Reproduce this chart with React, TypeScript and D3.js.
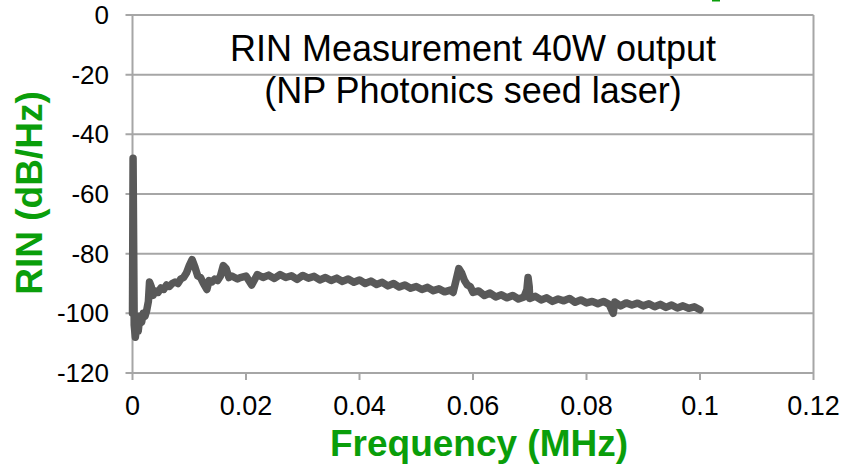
import React from "react";
import * as d3 from "d3";

const xTicks = [0, 0.02, 0.04, 0.06, 0.08, 0.1, 0.12];
const yTicks = [0, -20, -40, -60, -80, -100, -120];
const titleLines = ["RIN Measurement 40W output", "(NP Photonics seed laser)"];
const xLabel = "Frequency (MHz)";
const yLabel = "RIN (dB/Hz)";

const freq = [
  0, 0.0001, 0.0003, 0.0005, 0.0008, 0.001, 0.0013, 0.0016, 0.0019, 0.0022, 0.0025, 0.0028,
  0.003, 0.0033, 0.0036, 0.004, 0.0045, 0.005, 0.0055, 0.006, 0.0065, 0.007, 0.0075, 0.008,
  0.0085, 0.009, 0.0095, 0.01, 0.0105, 0.011, 0.0115, 0.012, 0.0125, 0.0131, 0.0135, 0.014,
  0.0145, 0.015, 0.0155, 0.016, 0.0165, 0.017, 0.0175, 0.018, 0.0185, 0.019, 0.02, 0.021,
  0.022, 0.023, 0.024, 0.025, 0.026, 0.027, 0.028, 0.029, 0.03, 0.031, 0.032, 0.033, 0.034,
  0.035, 0.036, 0.037, 0.038, 0.039, 0.04, 0.041, 0.042, 0.043, 0.044, 0.045, 0.046, 0.047,
  0.048, 0.049, 0.05, 0.051, 0.052, 0.053, 0.054, 0.055, 0.056, 0.0565, 0.057, 0.0575, 0.058,
  0.0585, 0.059, 0.0595, 0.06, 0.061, 0.062, 0.063, 0.064, 0.065, 0.066, 0.067, 0.068, 0.069,
  0.0695, 0.0697, 0.0699, 0.07, 0.071, 0.072, 0.073, 0.074, 0.075, 0.076, 0.077, 0.078, 0.079,
  0.08, 0.081, 0.082, 0.083, 0.084, 0.0847, 0.085, 0.086, 0.087, 0.088, 0.089, 0.09, 0.091,
  0.092, 0.093, 0.094, 0.095, 0.096, 0.097, 0.098, 0.099, 0.1,
];
const rin = [
  -100, -48, -104, -108, -104, -106, -101, -103, -100, -101, -99, -96,
  -89.5, -91, -94, -92.5, -93, -91.5, -92, -90.5, -91, -90, -89.5, -90,
  -88.5, -88, -86.5, -84, -82, -84.5, -87.5, -88, -90, -92, -89, -89.5,
  -88.5, -89, -87.5, -84, -85, -88, -87.5, -88, -88.5, -88, -87.5, -90.5,
  -87, -88, -87.2, -88.3, -87, -88, -87.4, -88.6, -87.3, -88.2, -87.6, -88.8, -88,
  -89, -88.2, -89.3, -88.5, -89.6, -88.8, -90, -89.2, -90.3, -89.6, -90.8, -90, -91.2,
  -90.5, -91.6, -91, -92, -91.3, -92.4, -91.8, -92.8, -92.2, -93, -89, -85, -86.5,
  -89, -90.5, -91, -93, -92.5, -94, -93.2, -94.5, -93.8, -94.8, -94, -95.2, -94.5,
  -92, -88, -91, -95, -94.3, -95.5, -94.8, -96, -95.2, -95.8, -95, -96.3, -95.5,
  -96.5, -96, -96.8, -96, -97, -100, -96.2, -97.5, -96.5, -97.2, -96.6, -97.5, -96.8,
  -97.8, -97, -98, -97.2, -98.2, -97.5, -98.3, -97.8, -98.8,
];

const W = 843;
const H = 471;
const left = 132.5;
const right = 813.5;
const top = 15;
const bottom = 373;
const gridColor = "#a6a6a6";
const green = "#0a9e0a";
const font = "'Liberation Sans', Arial, sans-serif";

export default function App() {
  React.useEffect(() => {
    document.body.style.margin = "0";
  }, []);
  const x = d3.scaleLinear().domain([0, 0.12]).range([left, right]);
  const y = d3.scaleLinear().domain([-120, 0]).range([bottom, top]);
  const pts: [number, number][] = freq.map((f, i) => [f, rin[i]]);
  const line = d3
    .line<[number, number]>()
    .x((d) => x(d[0]))
    .y((d) => y(d[1]));

  return (
    <svg width={W} height={H} style={{ display: "block", background: "#fff" }}>
      <rect x={712} y={0} width={8} height={1.5} fill={green} />
      {yTicks.map((t) => (
        <g key={"y" + t}>
          <line x1={left - 7} x2={right} y1={y(t)} y2={y(t)} stroke={gridColor} strokeWidth={2} />
          <text
            x={109}
            y={y(t)}
            textAnchor="end"
            dominantBaseline="central"
            fontFamily={font}
            fontSize={26}
            fill="#000"
          >
            {t}
          </text>
        </g>
      ))}
      <line x1={left} x2={left} y1={top} y2={bottom} stroke={gridColor} strokeWidth={2} />
      <line x1={right} x2={right} y1={top} y2={bottom} stroke={gridColor} strokeWidth={2} />
      {xTicks.map((t) => (
        <g key={"x" + t}>
          <line x1={x(t)} x2={x(t)} y1={bottom} y2={bottom + 7} stroke={gridColor} strokeWidth={2} />
          <text
            x={x(t)}
            y={415}
            textAnchor="middle"
            fontFamily={font}
            fontSize={27}
            fill="#000"
          >
            {t}
          </text>
        </g>
      ))}
      <path
        d={line(pts) || ""}
        fill="none"
        stroke="#595959"
        strokeWidth={7.5}
        strokeLinejoin="round"
        strokeLinecap="round"
      />
      {titleLines.map((s, i) => (
        <text
          key={s}
          x={473}
          y={61 + i * 42}
          textAnchor="middle"
          fontFamily={font}
          fontSize={36}
          fill="#000"
        >
          {s}
        </text>
      ))}
      <text
        x={479}
        y={456}
        textAnchor="middle"
        fontFamily={font}
        fontSize={37}
        fontWeight="bold"
        fill={green}
      >
        {xLabel}
      </text>
      <text
        transform={`translate(42,193) rotate(-90)`}
        textAnchor="middle"
        fontFamily={font}
        fontSize={37}
        fontWeight="bold"
        fill={green}
      >
        {yLabel}
      </text>
    </svg>
  );
}
